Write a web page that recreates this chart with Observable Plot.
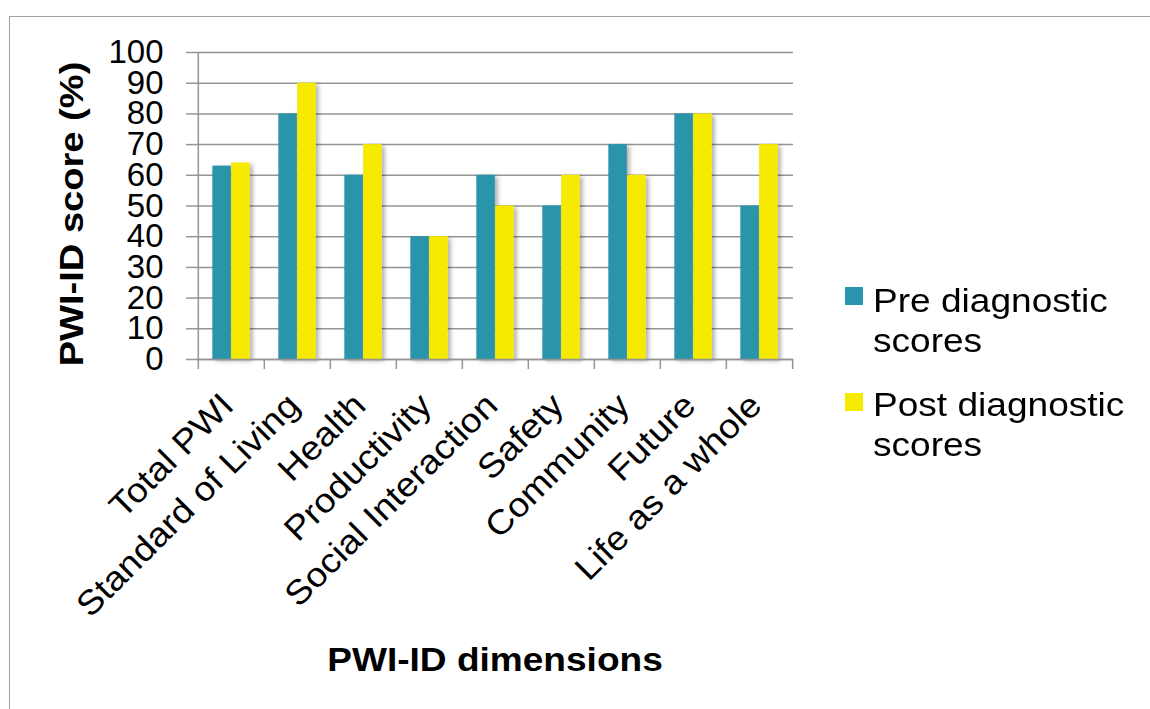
<!DOCTYPE html>
<html>
<head>
<meta charset="utf-8">
<script src="https://cdn.jsdelivr.net/npm/d3@7"></script>
<script src="https://cdn.jsdelivr.net/npm/@observablehq/plot@0.6"></script>
<style>
  html, body { margin: 0; padding: 0; background: #fff; }
  #chart { position: relative; width: 1150px; height: 709px; overflow: hidden;
           font-family: "Liberation Sans", Arial, sans-serif; }
  #border { position: absolute; left: 9px; top: 16px; width: 1300px; height: 900px;
            border: 1.5px solid #a3a3a3; box-sizing: border-box; }
  #chart svg { position: absolute; left: 0; top: 0; }
  .legend-item { position: absolute; left: 845px; }
  .legend-item .swatch { position: absolute; left: 0; width: 18px; height: 18px; }
  .legend-item .label { position: absolute; left: 28px; top: 0; font-size: 34px; line-height: 40px;
                        white-space: nowrap; color: #000; transform: scaleX(1.09); transform-origin: left top; }
</style>
</head>
<body>
<div id="chart"><div id="border"></div></div>
<script>
// PWI-ID dimensions and mean scores before / after diagnosis
const dimensions = ["Total PWI", "Standard of Living", "Health", "Productivity",
  "Social Interaction", "Safety", "Community", "Future", "Life as a whole"];
const preScores  = [63, 80, 60, 40, 60, 50, 70, 80, 50];
const postScores = [64, 90, 70, 40, 50, 60, 60, 80, 70];
const yTicks = [0, 10, 20, 30, 40, 50, 60, 70, 80, 90, 100];
const seriesNames = ["Pre diagnostic scores", "Post diagnostic scores"];
const seriesColors = ["#2994ab", "#f5ea00"];

const rows = dimensions.map((d, i) => ({dimension: d, pre: preScores[i], post: postScores[i]}));

const W = 1150, H = 709;
const margin = {left: 196, right: 357, top: 52, bottom: 350};
const band = (W - margin.left - margin.right) / dimensions.length;
const groupHalf = band * 0.284;          // half of the pair of bars
const outerInset = band / 2 - groupHalf;
const gridColor = "#959595";

const plot = Plot.plot({
  width: W,
  height: H,
  marginLeft: margin.left,
  marginRight: margin.right,
  marginTop: margin.top,
  marginBottom: margin.bottom,
  style: {fontFamily: "Liberation Sans, Arial, sans-serif", background: "transparent", overflow: "visible"},
  x: {domain: dimensions, padding: 0, axis: null},
  y: {domain: [0, 100], axis: null},
  marks: [
    Plot.gridY(yTicks, {stroke: gridColor, strokeOpacity: 1, strokeWidth: 1.5}),
    // grouped bars: pre on the left half of each band, post on the right half
    Plot.barY(rows, {x: "dimension", y: "pre", fill: seriesColors[0],
      insetLeft: outerInset, insetRight: band / 2}),
    Plot.barY(rows, {x: "dimension", y: "post", fill: seriesColors[1],
      insetLeft: band / 2, insetRight: outerInset}),
    // axis lines
    Plot.ruleY([0], {stroke: gridColor, strokeWidth: 1.5}),
    Plot.ruleX([dimensions[0]], {y1: 0, y2: 100, dx: -band / 2, stroke: gridColor, strokeWidth: 1.5}),
    // category boundary ticks under the baseline
    Plot.ruleX(dimensions, {y1: 0, y2: 0, dx: -band / 2, stroke: gridColor, strokeWidth: 1.5,
      insetBottom: -10}),
    Plot.ruleX([dimensions[dimensions.length - 1]], {y1: 0, y2: 0, dx: band / 2, stroke: gridColor,
      strokeWidth: 1.5, insetBottom: -10}),
    Plot.axisY(yTicks, {tickSize: 10, tickPadding: 23, fontSize: 33, stroke: gridColor,
      strokeWidth: 1.5, label: null, fill: "#000"}),
    // rotated category labels
    Plot.text(dimensions, {x: d => d, frameAnchor: "bottom", rotate: -45, textAnchor: "end",
      lineAnchor: "bottom", dx: 4, dy: 48, fontSize: 34, fill: "#000"}),
    // axis titles
    Plot.text(["PWI-ID dimensions"], {frameAnchor: "bottom", lineAnchor: "bottom", dy: 311,
      fontSize: 34, fontWeight: "bold", fill: "#000"}),
    Plot.text(["PWI-ID score (%)"], {frameAnchor: "left", rotate: -90, textAnchor: "middle",
      lineAnchor: "bottom", dx: -114, dy: 8, fontSize: 34, fontWeight: "bold", fill: "#000"})
  ]
});

const chart = document.getElementById("chart");
chart.appendChild(plot);

const svg = d3.select(plot);

// soft shadow behind the bars
const defs = svg.insert("defs", ":first-child");
defs.append("filter").attr("id", "barShadow").attr("x", "-20%").attr("y", "-5%")
  .attr("width", "150%").attr("height", "115%")
  .append("feDropShadow").attr("dx", 3).attr("dy", 2).attr("stdDeviation", 2)
  .attr("flood-color", "#000").attr("flood-opacity", 0.3);
svg.selectAll('g[aria-label="bar"]').attr("filter", "url(#barShadow)");

// slightly wider lettering for the labels and titles
function widen(group, factor) {
  d3.select(group).selectAll("text").each(function () {
    const len = this.getComputedTextLength();
    this.setAttribute("textLength", (len * factor).toFixed(1));
    this.setAttribute("lengthAdjust", "spacingAndGlyphs");
  });
}
const textGroups = svg.selectAll('g[aria-label="text"]').nodes();
widen(textGroups[0], 1.09);   // category labels
widen(textGroups[1], 1.09);   // x title
widen(textGroups[2], 1.12);   // y title

// legend
const legendTops = [280, 384];
const legendSwatchTops = [287, 393];
seriesNames.forEach((name, i) => {
  const item = document.createElement("div");
  item.className = "legend-item";
  item.style.top = legendTops[i] + "px";
  const sw = document.createElement("div");
  sw.className = "swatch";
  sw.style.background = seriesColors[i];
  sw.style.top = (legendSwatchTops[i] - legendTops[i]) + "px";
  const label = document.createElement("div");
  label.className = "label";
  const words = name.split(" ");
  label.innerHTML = words.slice(0, 2).join(" ") + "<br>" + words.slice(2).join(" ");
  item.appendChild(sw);
  item.appendChild(label);
  chart.appendChild(item);
});
</script>
</body>
</html>
